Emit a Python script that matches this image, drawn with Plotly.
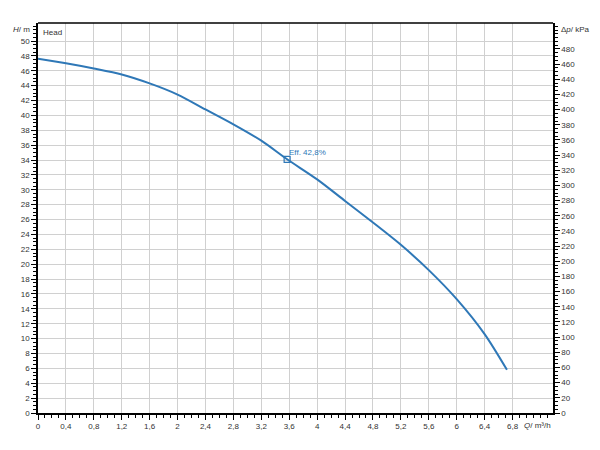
import plotly.graph_objects as go

# Data
flow_q = [0, 0.4, 0.8, 1.2, 1.6, 2.0, 2.4, 2.8, 3.2, 3.57, 4.0, 4.4, 4.8, 5.2, 5.6, 6.0, 6.4, 6.72]
head_h = [47.6, 47.0, 46.3, 45.5, 44.3, 42.8, 40.8, 38.8, 36.6, 34.1, 31.4, 28.5, 25.6, 22.6, 19.2, 15.3, 10.6, 5.8]
eff_point_q = [3.57]
eff_point_h = [34.1]
eff_label = ["Eff. 42,8%"]

x_tickvals = [0, 0.4, 0.8, 1.2, 1.6, 2, 2.4, 2.8, 3.2, 3.6, 4, 4.4, 4.8, 5.2, 5.6, 6, 6.4, 6.8]
x_ticktext = ["0", "0,4", "0,8", "1,2", "1,6", "2", "2,4", "2,8", "3,2", "3,6", "4", "4,4", "4,8", "5,2", "5,6", "6", "6,4", "6,8"]
y_tickvals = list(range(0, 51, 2))
y2_tickvals = list(range(0, 481, 20))

X_MAX = 7.38
Y_MAX = 52.42
KPA_PER_M = 9.81

line_color = "#2f78b7"
font = dict(family="Liberation Sans, Arial", size=8, color="#333333")

fig = go.Figure()
fig.add_trace(go.Scatter(x=flow_q, y=head_h, mode="lines",
                         line=dict(color=line_color, width=2, shape="spline", smoothing=0.8),
                         showlegend=False, hoverinfo="skip"))
fig.add_trace(go.Scatter(x=eff_point_q, y=eff_point_h, mode="markers",
                         marker=dict(symbol="square-open", size=6, color=line_color, line=dict(width=1.2)),
                         showlegend=False, hoverinfo="skip"))
# invisible trace for right axis
fig.add_trace(go.Scatter(x=[0], y=[0], yaxis="y2", mode="markers",
                         marker=dict(opacity=0), showlegend=False, hoverinfo="skip"))

axis_common = dict(showline=True, linecolor="black", linewidth=1.5, ticks="outside",
                   tickcolor="black", ticklen=5, tickwidth=1, tickfont=font,
                   zeroline=False, mirror=False, automargin=False)

fig.update_layout(
    width=584, height=434,
    margin=dict(l=30, r=39, t=15, b=29),
    paper_bgcolor="white", plot_bgcolor="white",
    xaxis=dict(range=[0, X_MAX], tickvals=x_tickvals, ticktext=x_ticktext,
               showgrid=True, gridcolor="#d0d0d0", gridwidth=1,
               minor=dict(dtick=0.1, tick0=0, ticks="outside", ticklen=3, tickcolor="black", showgrid=False),
               **axis_common),
    yaxis=dict(range=[0, Y_MAX], tickvals=y_tickvals,
               showgrid=True, gridcolor="#d0d0d0", gridwidth=1,
               minor=dict(dtick=0.5, tick0=0, ticks="outside", ticklen=3, tickcolor="black", showgrid=False),
               **axis_common),
    yaxis2=dict(range=[0, Y_MAX * KPA_PER_M], tickvals=y2_tickvals, overlaying="y", side="right",
                showgrid=False,
                minor=dict(dtick=5, tick0=0, ticks="outside", ticklen=3, tickcolor="black", showgrid=False),
                **axis_common),
    shapes=[dict(type="line", xref="paper", yref="paper", x0=0, x1=1, y0=1, y1=1,
                 line=dict(color="black", width=1.5))],
    annotations=[
        dict(text="<i>H</i>/ m", xref="paper", yref="paper", x=0, y=1, xanchor="right", yanchor="middle",
             xshift=-6, yshift=-6, showarrow=False, font=font),
        dict(text="Head", xref="paper", yref="paper", x=0, y=1, xanchor="left", yanchor="top",
             xshift=3, yshift=-3, showarrow=False, font=font),
        dict(text="Δ<i>p</i>/ kPa", xref="paper", yref="paper", x=1, y=1, xanchor="left", yanchor="middle",
             xshift=6, yshift=-6, showarrow=False, font=font),
        dict(text="<i>Q</i>/ m³/h", xref="paper", yref="paper", x=6.85 / X_MAX, y=0, xanchor="left", yanchor="top",
             xshift=6, yshift=-6, showarrow=False, font=font),
        dict(text=eff_label[0], x=eff_point_q[0], y=eff_point_h[0], xref="x", yref="y",
             xanchor="left", yanchor="bottom", xshift=0, yshift=0, showarrow=False,
             font=dict(family="Liberation Sans, Arial", size=8, color=line_color)),
    ],
)

fig.write_html("out.html")
